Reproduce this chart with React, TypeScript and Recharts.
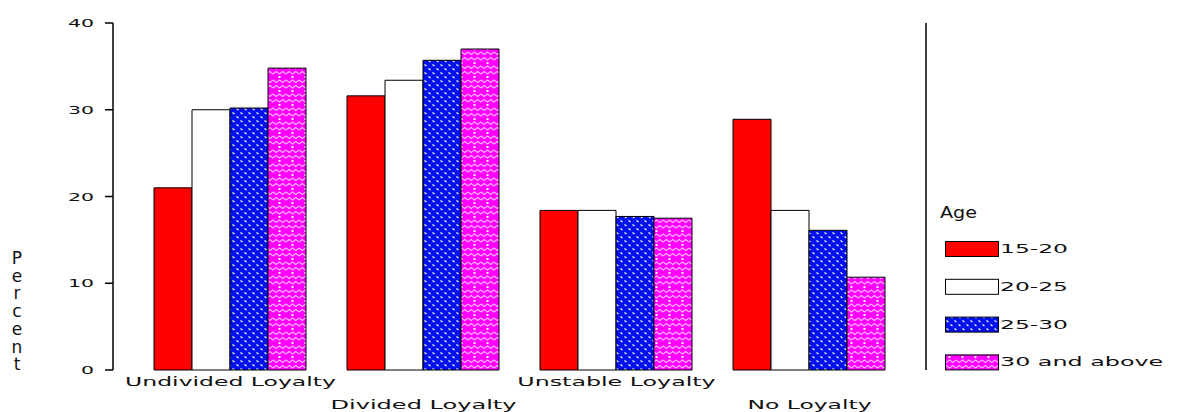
import { BarChart, Bar, XAxis, YAxis } from 'recharts'

const categories = ['Undivided Loyalty', 'Divided Loyalty', 'Unstable Loyalty', 'No Loyalty']
const age15to20 = [21.0, 31.6, 18.4, 28.9]
const age20to25 = [30.0, 33.4, 18.4, 18.4]
const age25to30 = [30.2, 35.7, 17.7, 16.1]
const age30plus = [34.8, 37.0, 17.5, 10.7]
const ageLabels = ['15-20', '20-25', '25-30', '30 and above']
const yTicks = [0, 10, 20, 30, 40]

const chartData = categories.map((name, i) => ({
  name,
  a: age15to20[i],
  b: age20to25[i],
  c: age25to30[i],
  d: age30plus[i],
}))

const fills = ['#ff0000', '#ffffff', 'url(#patBlue)', 'url(#patPink)']
const keys = ['a', 'b', 'c', 'd']
const font = '"DejaVu Sans", sans-serif'

// patterns shared by the bars and the legend swatches
function Patterns({ prefix = '' }: { prefix?: string }) {
  return (
    <defs>
      <pattern id={prefix + 'patBlue'} width="8" height="8" patternUnits="userSpaceOnUse">
        <rect width="8" height="8" fill="#0010ee" />
        <path d="M0.5 0.5 L2.5 2 M4.5 4.5 L6.5 6" stroke="#ffffff" strokeWidth="1.2" />
      </pattern>
      <pattern id={prefix + 'patPink'} width="13" height="14" patternUnits="userSpaceOnUse">
        <rect width="13" height="14" fill="#ff00ff" />
        <path
          d="M0 4 L3.25 1.5 L6.5 4 L9.75 1.5 L13 4 M0 10 L3.25 12.5 L6.5 10 L9.75 12.5 L13 10"
          stroke="#ffb0ff"
          strokeWidth="1.2"
          fill="none"
        />
        <rect x="5.5" y="6" width="2" height="2" fill="#ffffff" />
      </pattern>
    </defs>
  )
}

function XTick(props: any) {
  const { x, y, payload, index } = props
  const label = String(payload.value)
  const row = index % 2
  return (
    <text
      x={x}
      y={y + (row === 0 ? 8 : 31)}
      textAnchor="middle"
      fontFamily={font}
      fontSize={13}
      fill="#111"
      textLength={label.length * 12.4}
      lengthAdjust="spacingAndGlyphs"
    >
      {label}
    </text>
  )
}

function YTick(props: any) {
  const { y, payload } = props
  const label = String(payload.value)
  return (
    <text
      x={94}
      y={y + 4}
      textAnchor="end"
      fontFamily={font}
      fontSize={11}
      fill="#111"
      textLength={label.length * 13}
      lengthAdjust="spacingAndGlyphs"
    >
      {label}
    </text>
  )
}

function PercentLabel() {
  const letters = 'Percent'.split('')
  return (
    <g>
      {letters.map((ch, i) => (
        <text
          key={i}
          x={17}
          y={264 + i * 17.7}
          textAnchor="middle"
          fontFamily={font}
          fontSize="17px"
          style={{ fontSize: 17 }}
          fill="#111"
        >
          {ch}
        </text>
      ))}
    </g>
  )
}

function AgeLegend() {
  return (
    <svg width={254} height={412} style={{ position: 'absolute', left: 930, top: 0 }}>
      <Patterns prefix="lg-" />
      <text x={10} y={218} fontFamily={font} fontSize={16} fill="#111" textLength={37} lengthAdjust="spacingAndGlyphs">
        Age
      </text>
      {ageLabels.map((label, i) => {
        const top = 241 + i * 37.8
        const fill = fills[i].startsWith('url') ? fills[i].replace('#', '#lg-') : fills[i]
        return (
          <g key={label}>
            <rect x={15.5} y={top + 0.5} width={53} height={15} fill={fill} stroke="#000" strokeWidth={1} />
            <text
              x={70}
              y={top + 12}
              fontFamily={font}
              fontSize={12}
              fill="#111"
              textLength={label.length * 13.6}
              lengthAdjust="spacingAndGlyphs"
            >
              {label}
            </text>
          </g>
        )
      })}
    </svg>
  )
}

export default function App() {
  return (
    <div style={{ position: 'absolute', left: 0, top: 0, width: 1184, height: 412, background: '#fff' }}>
      <BarChart
        width={1184}
        height={412}
        data={chartData}
        margin={{ top: 23, right: 257, bottom: 0, left: 0 }}
        barCategoryGap={20}
        barGap={0}
      >
        <Patterns />
        <XAxis
          dataKey="name"
          height={42}
          axisLine={false}
          tickLine={false}
          interval={0}
          padding={{ left: 21, right: 20 }}
          tick={<XTick />}
        />
        <YAxis
          width={113}
          domain={[0, 40]}
          ticks={yTicks}
          tickSize={8}
          stroke="#000"
          axisLine={{ stroke: '#000', strokeWidth: 1.5 }}
          tickLine={{ stroke: '#000', strokeWidth: 1.5 }}
          tick={<YTick />}
          label={{ content: () => <PercentLabel /> }}
        />
        <YAxis
          yAxisId="right"
          orientation="right"
          width={1}
          domain={[0, 40]}
          tick={false}
          tickLine={false}
          stroke="#000"
          axisLine={{ stroke: '#000', strokeWidth: 1.5 }}
        />
        {keys.map((k, i) => (
          <Bar key={k} dataKey={k} fill={fills[i]} stroke="#000" strokeWidth={1} isAnimationActive={false} />
        ))}
      </BarChart>
      <AgeLegend />
    </div>
  )
}
